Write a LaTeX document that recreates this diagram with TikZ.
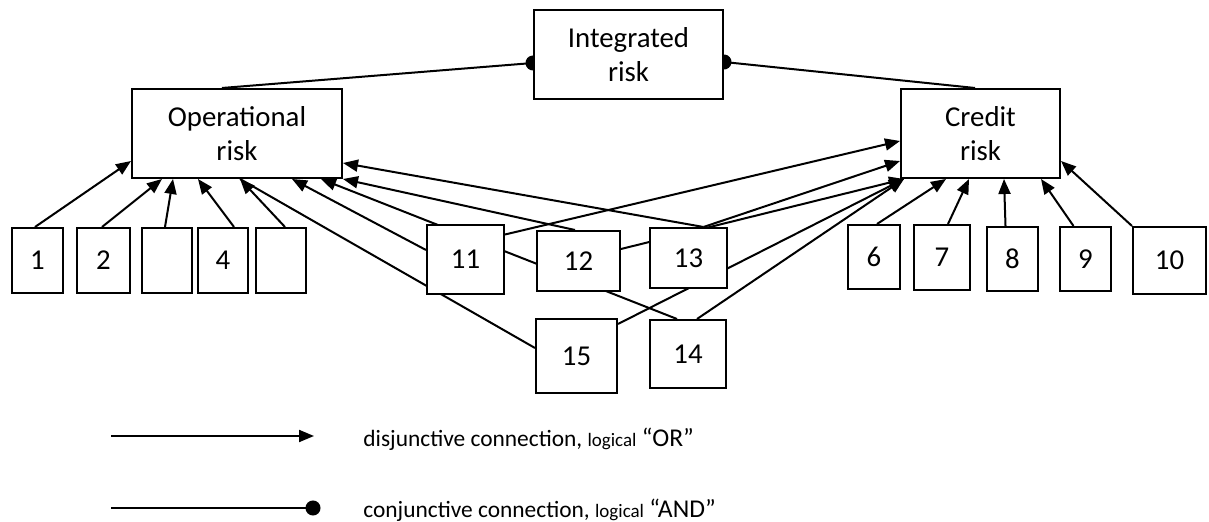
\documentclass[tikz,border=0pt]{standalone}
\usepackage{fontspec}
\setmainfont{Carlito}
\usepackage{tikz}
\usetikzlibrary{arrows.meta,positioning,calc,backgrounds}
\newcommand{\risksmall}{\fontsize{9.5}{11}\selectfont}
\newcommand{\riskquote}{\fontsize{12.8}{14}\selectfont}
\tikzset{
  risk/box/.style={
    draw=black,
    line width=1pt,
    fill=white,
    align=center,
    inner sep=0pt,
    minimum height=44.5pt,
    font=\fontsize{14.4}{17}\selectfont
  },
  risk/factor/.style={
    draw=black,
    line width=1pt,
    fill=white,
    inner sep=0pt,
    minimum width=25.5pt,
    minimum height=32.5pt,
    font=\fontsize{14.4}{17}\selectfont
  },
  risk/or/.style={-{Triangle[length=7.5pt,width=6pt]}, line width=1pt},
  risk/and/.style={-{Circle[length=7.5pt]}, line width=1pt, shorten >=-3.75pt},
  risk/link/.style={line width=1pt},
  risk/legend/.style={anchor=base west, inner sep=0pt, font=\fontsize{11.7}{14}\selectfont}
}

\begin{document}
\begin{tikzpicture}[x=0.5pt,y=-0.5pt]
  \useasboundingbox (0,0) rectangle (1209,522);
  \node[risk/box,minimum width=94.5pt] (integrated) at (628.5,54.5) {Integrated\\risk};
  \node[risk/box,minimum width=105pt] (op) at (237,133.5) {Operational\\risk};
  \node[risk/box,minimum width=79.5pt] (cr) at (980.5,133.5) {Credit\\risk};

  \node[risk/factor] (f1) at (37.5,260.5) {1};
  \node[risk/factor,minimum width=26.5pt] (f2) at (103.5,260.5) {2};
  \node[risk/factor,minimum width=25pt] (f3) at (167,260.5) {};
  \node[risk/factor,minimum width=25pt] (f4) at (223,260.5) {4};
  \node[risk/factor,minimum width=25pt] (f5) at (281,260.5) {};
  \node[risk/factor,minimum width=38.5pt,minimum height=34.5pt] (f11) at (465.5,259.5) {11};
  \node[risk/factor,minimum width=41.5pt,minimum height=30pt] (f12) at (578.5,261) {12};
  \node[risk/factor,minimum width=38.5pt,minimum height=30pt] (f13) at (688.5,258) {13};
  \node[risk/factor,minimum width=40.5pt,minimum height=37pt] (f15) at (576.5,356) {15};
  \node[risk/factor,minimum width=38pt,minimum height=34pt] (f14) at (688,354) {14};
  \node[risk/factor,minimum width=26pt,minimum height=32pt] (f6) at (874,257) {6};
  \node[risk/factor,minimum width=28pt] (f7) at (942,257.5) {7};
  \node[risk/factor,minimum height=32pt] (f8) at (1012.5,259) {8};
  \node[risk/factor,minimum height=32pt] (f9) at (1085.5,259) {9};
  \node[risk/factor,minimum width=36.5pt,minimum height=33.5pt] (f10) at (1169.5,260.5) {10};

  \begin{scope}[on background layer]
    \draw[risk/and] ([shift={(-15,0)}]op.north) -- ([shift={(0,8.5)}]integrated.west);
    \draw[risk/and] ([shift={(-5.5,0)}]cr.north) -- ([shift={(0,7.5)}]integrated.east);

    \draw[risk/or] ([shift={(-2.5,0)}]f1.north) -- ([shift={(0,-18)}]op.south west);
    \draw[risk/or] ([shift={(-1.5,0)}]f2.north) -- ([shift={(31,0)}]op.south west);
    \draw[risk/or] ([shift={(-2,0)}]f3.north) -- ([shift={(42,0)}]op.south west);
    \draw[risk/or] ([shift={(11,0)}]f4.north) -- ([shift={(67,0)}]op.south west);
    \draw[risk/or] ([shift={(4,0)}]f5.north) -- ([shift={(3,0)}]op.south);
    \draw[risk/link] ([shift={(0,-8)}]f15.west) -- ([shift={(3,0)}]op.south);
    \draw[risk/or] ([shift={(0,-9.5)}]f11.west) -- ([shift={(55,0)}]op.south);
    \draw[risk/or] ([shift={(-11,0)}]f14.north) -- ([shift={(-22,0)}]op.south east);
    \draw[risk/or] ([shift={(-3.5,0)}]f12.north) -- (op.south east);
    \draw[risk/or] ([shift={(15,0)}]f13.north) -- ([shift={(0,-16)}]op.south east);

    \draw[risk/or] ([shift={(0,-25)}]f11.east) -- ([shift={(0,-38)}]cr.south west);
    \draw[risk/or] ([shift={(15,0)}]f13.north) -- ([shift={(0,-18)}]cr.south west);
    \draw[risk/or] ([shift={(0,-12)}]f12.east) -- ([shift={(4,0)}]cr.south west);
    \draw[risk/or] ([shift={(0,-32)}]f15.east) -- ([shift={(4,0)}]cr.south west);
    \draw[risk/or] ([shift={(9,0)}]f14.north) -- ([shift={(4,0)}]cr.south west);
    \draw[risk/or] ([shift={(3,0)}]f6.north) -- ([shift={(46,0)}]cr.south west);
    \draw[risk/or] ([shift={(6,0)}]f7.north) -- ([shift={(69,0)}]cr.south west);
    \draw[risk/or] ([shift={(-7,0)}]f8.north) -- ([shift={(104,0)}]cr.south west);
    \draw[risk/or] ([shift={(-12,0)}]f9.north) -- ([shift={(-20,0)}]cr.south east);
    \draw[risk/or] (f10.north west) -- ([shift={(0,-18)}]cr.south east);
  \end{scope}

  \coordinate (or-start) at (111,436);
  \coordinate (or-end) at (314,436);
  \coordinate (and-start) at (111,508);
  \coordinate (and-end) at (313,508);
  \draw[risk/or] (or-start) -- (or-end);
  \draw[risk/and] (and-start) -- (and-end);
  \node[risk/legend] (or-text) at (363,447) {disjunctive connection, {\risksmall logical} {\riskquote “OR”}};
  \node[risk/legend] (and-text) at (363,518) {conjunctive connection, {\risksmall logical} {\riskquote “AND”}};
\end{tikzpicture}
\end{document}
